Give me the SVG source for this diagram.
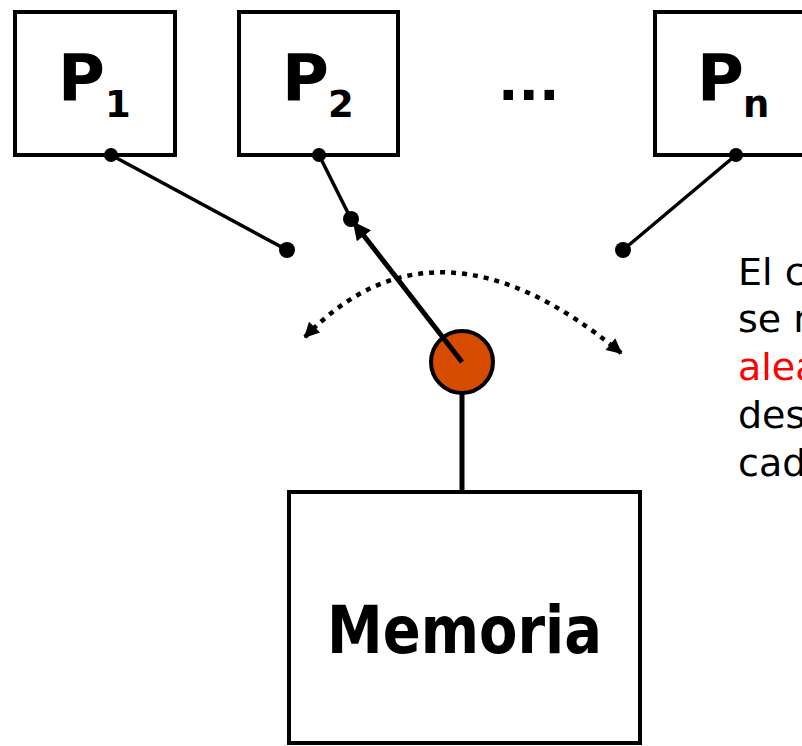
<svg xmlns="http://www.w3.org/2000/svg" width="802" height="746" viewBox="0 0 802 746">
  <style>
    .box { fill: #ffffff; stroke: #000000; stroke-width: 4; }
    .lbl { font-family: "DejaVu Sans", Verdana, sans-serif; font-weight: bold; fill: #000000; }
    .big { font-size: 64px; }
    .sub { font-size: 37px; }
    .wire { stroke: #000000; stroke-width: 3.5; fill: none; stroke-linecap: round; }
    .dot { fill: #000000; }
    .note { font-family: "DejaVu Sans", Verdana, sans-serif; font-size: 38px; fill: #000000; }
    .note.hot { fill: #FF0000; }
  </style>
  <defs>
    <marker id="head" viewBox="0 0 10 10" refX="9" refY="5" markerWidth="4" markerHeight="3.6" markerUnits="strokeWidth" orient="auto-start-reverse">
      <path d="M0,0 L10,5 L0,10 z" fill="#000000"/>
    </marker>
    <marker id="headSmall" viewBox="0 0 10 10" refX="9" refY="5" markerWidth="4.2" markerHeight="3.4" markerUnits="strokeWidth" orient="auto-start-reverse">
      <path d="M0,0 L10,5 L0,10 z" fill="#000000"/>
    </marker>
  </defs>

  <!-- processors -->
  <g id="p1">
    <rect class="box" x="15" y="12" width="160" height="143"/>
    <text class="lbl big" x="58" y="100">P</text>
    <text class="lbl sub" x="105" y="117">1</text>
  </g>
  <g id="p2">
    <rect class="box" x="239" y="12" width="159" height="143"/>
    <text class="lbl big" x="282" y="100">P</text>
    <text class="lbl sub" x="328" y="117">2</text>
  </g>
  <g id="ellipsis">
    <text class="lbl" x="498" y="100" font-size="54">...</text>
  </g>
  <g id="pn">
    <rect class="box" x="655" y="12" width="200" height="143"/>
    <text class="lbl big" x="697" y="100">P</text>
    <text class="lbl sub" x="743" y="117">n</text>
  </g>

  <!-- memory -->
  <g id="memoria">
    <rect class="box" x="289" y="492" width="351" height="251"/>
    <text class="lbl" x="327" y="653" font-size="66" textLength="275" lengthAdjust="spacingAndGlyphs">Memoria</text>
  </g>

  <!-- connectors and the switch -->
  <g id="connectors">
    <line class="wire" x1="111" y1="155" x2="287" y2="250"/>
    <line class="wire" x1="319" y1="155" x2="351" y2="219"/>
    <line class="wire" x1="736" y1="155" x2="623" y2="250"/>
    <circle class="dot" cx="111" cy="155" r="7"/>
    <circle class="dot" cx="319" cy="155" r="7"/>
    <circle class="dot" cx="736" cy="155" r="7"/>
    <circle class="dot" cx="287" cy="250" r="8"/>
    <circle class="dot" cx="351" cy="219" r="8"/>
    <circle class="dot" cx="623" cy="250" r="8"/>

    <!-- swinging path of the switch -->
    <path d="M305,337 Q437,200 621,353" fill="none" stroke="#000000" stroke-width="4.5" stroke-dasharray="5 6" marker-start="url(#headSmall)" marker-end="url(#headSmall)"/>

    <!-- lead down to memory -->
    <line x1="462" y1="390" x2="462" y2="492" stroke="#000000" stroke-width="5"/>
  </g>

  <g id="switch">
    <circle cx="462" cy="362" r="31" fill="#D64B00" stroke="#000000" stroke-width="4"/>
    <line x1="462" y1="362" x2="354" y2="223" stroke="#000000" stroke-width="5" marker-end="url(#head)"/>
  </g>

  <!-- side note -->
  <g id="nota">
    <text class="note" x="738" y="285">El c</text>
    <text class="note" x="738" y="332">se m</text>
    <text class="note hot" x="738" y="380">alea</text>
    <text class="note" x="738" y="428">des</text>
    <text class="note" x="738" y="476">cad</text>
  </g>
</svg>
